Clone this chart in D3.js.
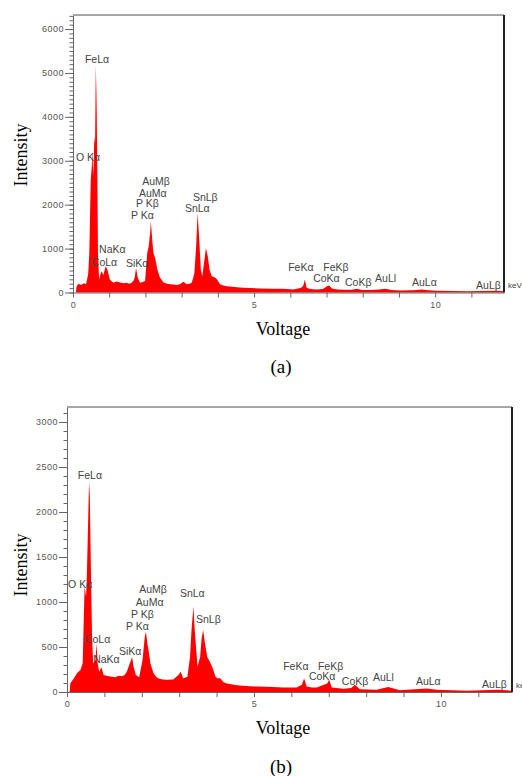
<!DOCTYPE html>
<html>
<head>
<meta charset="utf-8">
<script src="https://cdn.jsdelivr.net/npm/d3@7"></script>
<style>
  body { margin: 0; background: #fff; }
  svg { display: block; background: #fff; }
</style>
</head>
<body>
<svg id="chart" width="522" height="776"></svg>
<script>
// spectrum (a) — energy in keV, counts
const energyA = [0, 0.08, 0.10, 0.15, 0.22, 0.30, 0.36, 0.42, 0.45, 0.47, 0.49, 0.52, 0.535, 0.55, 0.56, 0.575, 0.59, 0.61, 0.63, 0.645, 0.655, 0.67, 0.69, 0.72, 0.76, 0.79, 0.84, 0.90, 0.95, 1.02, 1.11, 1.20, 1.30, 1.40, 1.48, 1.55, 1.62, 1.68, 1.71, 1.74, 1.79, 1.85, 1.92, 1.99, 2.05, 2.09, 2.13, 2.15, 2.18, 2.22, 2.27, 2.33, 2.40, 2.50, 2.60, 2.68, 2.78, 2.86, 2.95, 3.05, 3.14, 3.22, 3.28, 3.35, 3.40, 3.44, 3.48, 3.53, 3.57, 3.63, 3.67, 3.72, 3.77, 3.83, 3.92, 3.97, 4.06, 4.15, 4.25, 4.40, 4.52, 4.70, 4.89, 5.17, 5.50, 5.80, 6.09, 6.30, 6.36, 6.40, 6.45, 6.55, 6.73, 6.90, 7.01, 7.07, 7.15, 7.30, 7.47, 7.70, 7.84, 7.98, 8.20, 8.45, 8.62, 8.80, 9.03, 9.40, 9.63, 9.80, 10.05, 10.50, 10.88, 11.30, 11.70, 11.9];
const countsA = [0, 0, 140, 200, 170, 210, 190, 420, 900, 1700, 2570, 2870, 3210, 2900, 2640, 3100, 3550, 3400, 5180, 4600, 4090, 2870, 900, 295, 420, 485, 400, 600, 520, 290, 220, 250, 230, 210, 220, 200, 220, 280, 370, 560, 330, 220, 240, 260, 900, 1050, 1360, 1620, 1280, 900, 780, 520, 340, 230, 200, 190, 180, 170, 190, 245, 190, 200, 220, 430, 1050, 1810, 1280, 520, 370, 750, 1010, 830, 520, 370, 340, 300, 190, 160, 140, 130, 120, 110, 100, 90, 85, 85, 70, 110, 160, 295, 110, 80, 70, 80, 145, 160, 90, 70, 60, 65, 85, 55, 55, 70, 85, 55, 45, 50, 70, 50, 40, 35, 30, 35, 40, 30];

// spectrum (b)
const energyB = [0, 0.07, 0.09, 0.18, 0.27, 0.36, 0.42, 0.45, 0.47, 0.51, 0.53, 0.56, 0.59, 0.61, 0.64, 0.67, 0.70, 0.76, 0.79, 0.82, 0.86, 0.92, 0.98, 1.05, 1.11, 1.20, 1.29, 1.38, 1.47, 1.54, 1.60, 1.68, 1.74, 1.78, 1.84, 1.93, 2.02, 2.08, 2.11, 2.15, 2.18, 2.23, 2.31, 2.38, 2.45, 2.55, 2.67, 2.84, 2.98, 3.04, 3.11, 3.22, 3.29, 3.33, 3.38, 3.41, 3.45, 3.49, 3.56, 3.60, 3.64, 3.69, 3.75, 3.82, 3.90, 3.97, 4.03, 4.09, 4.18, 4.27, 4.40, 4.54, 4.70, 4.89, 5.10, 5.34, 5.78, 6.14, 6.28, 6.34, 6.41, 6.55, 6.68, 6.96, 7.01, 7.08, 7.39, 7.60, 7.70, 7.83, 8.28, 8.59, 8.90, 9.30, 9.62, 9.88, 10.68, 11.10, 11.53, 11.9];
const countsB = [0, 0, 96, 150, 210, 245, 320, 840, 1170, 1060, 1280, 1800, 2340, 2170, 1355, 615, 320, 350, 540, 320, 225, 275, 190, 180, 175, 170, 165, 180, 175, 190, 225, 320, 385, 280, 190, 165, 355, 615, 670, 540, 465, 320, 215, 170, 150, 140, 135, 140, 190, 225, 150, 170, 390, 690, 950, 725, 505, 280, 390, 595, 690, 540, 390, 335, 260, 170, 150, 155, 110, 95, 85, 75, 70, 65, 60, 58, 50, 50, 80, 150, 60, 50, 50, 95, 135, 50, 35, 45, 80, 30, 25, 55, 20, 30, 40, 25, 15, 20, 25, 15];

// peak labels: name, energy where the label starts, height in counts
const peakNames = ["FeLα", "O Kα", "AuMβ", "AuMα", "P Kβ", "P Kα", "NaKα", "CoLα", "SiKα", "SnLβ", "SnLα", "FeKα", "FeKβ", "CoKα", "CoKβ", "AuLl", "AuLα", "AuLβ"];
const peakEnA = [0.33, 0.08, 1.91, 1.82, 1.74, 1.60, 0.72, 0.52, 1.46, 3.31, 3.09, 5.94, 6.91, 6.63, 7.51, 8.34, 9.36, 11.13];
const peakLvA = [5320, 3090, 2545, 2270, 2045, 1770, 1000, 705, 680, 2180, 1930, 570, 570, 340, 230, 340, 230, 160];
const peakEnB = [0.29, 0.03, 1.93, 1.84, 1.71, 1.58, 0.70, 0.48, 1.39, 3.45, 3.02, 5.78, 6.71, 6.47, 7.35, 8.18, 9.33, 11.10];
const peakLvB = [2411, 1200, 1144, 1000, 867, 733, 367, 589, 456, 811, 1100, 289, 289, 178, 122, 167, 122, 89];

const svg = d3.select("#chart");

const drawSpectrum = (opts) => {
  const g = svg.append("g");

  // scales
  const x = d3.scaleLinear().domain([0, 11.9]).range([opts.left, opts.right]);
  const y = d3.scaleLinear().domain([0, opts.yMax]).range([opts.bottom, opts.top]);

  // the filled spectrum
  const pts = opts.energy.map((e, i) => [e, opts.counts[i]]);
  const area = d3.area()
    .x((d) => x(d[0]))
    .y0(y(0))
    .y1((d) => y(d[1]));
  g.append("path").datum(pts).attr("d", area).attr("fill", "#ff0000");

  // minor y ticks
  const yMinor = g.append("g")
    .attr("transform", `translate(${opts.left},0)`)
    .call(d3.axisLeft(y).tickValues(d3.range(0, opts.yMax, 100)).tickSize(3.5).tickFormat(""));
  yMinor.select(".domain").remove();

  // major y ticks with labels
  const yMajor = g.append("g")
    .attr("transform", `translate(${opts.left},0)`)
    .call(d3.axisLeft(y).tickValues(d3.range(0, opts.yMax, opts.yStep)).tickSize(8).tickPadding(1)
      .tickSizeOuter(0).tickFormat(d3.format("d")));

  // x axis
  const xAxis = g.append("g")
    .attr("transform", `translate(0,${opts.bottom})`)
    .call(d3.axisBottom(x).tickValues(d3.range(0, 12, 1)).tickSize(5).tickPadding(4).tickSizeOuter(0)
      .tickFormat((d) => (d % 5 === 0 ? d : "")));

  [yMinor, yMajor, xAxis].forEach((a) => {
    a.selectAll("line, path").attr("stroke", "#666");
    a.selectAll("text")
      .attr("fill", "#555")
      .style("font-family", "'Liberation Sans', Arial, sans-serif")
      .style("font-size", "9px")
      .style("letter-spacing", "0.5px");
  });

  // frame: top in grey, right side dark
  g.append("line")
    .attr("x1", opts.left).attr("x2", opts.right)
    .attr("y1", opts.top).attr("y2", opts.top)
    .attr("stroke", "#888").attr("stroke-width", 1.5);
  g.append("line")
    .attr("x1", opts.right).attr("x2", opts.right)
    .attr("y1", opts.top).attr("y2", opts.bottom)
    .attr("stroke", "#222").attr("stroke-width", 2);

  // peak labels
  g.selectAll(".peak")
    .data(peakNames)
    .enter()
    .append("text")
    .attr("class", "peak")
    .attr("x", (d, i) => x(opts.peakEn[i]))
    .attr("y", (d, i) => y(opts.peakLv[i]))
    .attr("dominant-baseline", "central")
    .attr("fill", "#444")
    .style("font-family", "'Liberation Sans', Arial, sans-serif")
    .style("font-size", "10.5px")
    .text((d) => d);

  // unit at the right end of the x axis (cut by the edge, as in the source figure)
  g.append("text")
    .attr("x", opts.right + 4)
    .attr("y", opts.bottom - 7)
    .attr("dominant-baseline", "central")
    .attr("fill", "#444")
    .style("font-family", "'Liberation Sans', Arial, sans-serif")
    .style("font-size", "8px")
    .text("keV");

  // axis titles and caption
  const serif = "'Liberation Serif', 'Times New Roman', serif";
  g.append("text")
    .attr("transform", `translate(21,${opts.titleY}) rotate(-90)`)
    .attr("text-anchor", "middle")
    .attr("dominant-baseline", "central")
    .style("font-family", serif)
    .style("font-size", "18px")
    .text("Intensity");
  g.append("text")
    .attr("x", 283)
    .attr("y", opts.bottom + 36)
    .attr("text-anchor", "middle")
    .attr("dominant-baseline", "central")
    .style("font-family", serif)
    .style("font-size", "18px")
    .text("Voltage");
  g.append("text")
    .attr("x", 281)
    .attr("y", opts.bottom + 74)
    .attr("text-anchor", "middle")
    .attr("dominant-baseline", "central")
    .style("font-family", serif)
    .style("font-size", "19px")
    .text(opts.caption);
};

drawSpectrum({
  left: 73, right: 504, top: 15, bottom: 292.5, yMax: 6320, yStep: 1000, titleY: 155,
  energy: energyA, counts: countsA, peakEn: peakEnA, peakLv: peakLvA, caption: "(a)",
});

drawSpectrum({
  left: 67, right: 512, top: 407, bottom: 692, yMax: 3167, yStep: 500, titleY: 565,
  energy: energyB, counts: countsB, peakEn: peakEnB, peakLv: peakLvB, caption: "(b)",
});
</script>
</body>
</html>
